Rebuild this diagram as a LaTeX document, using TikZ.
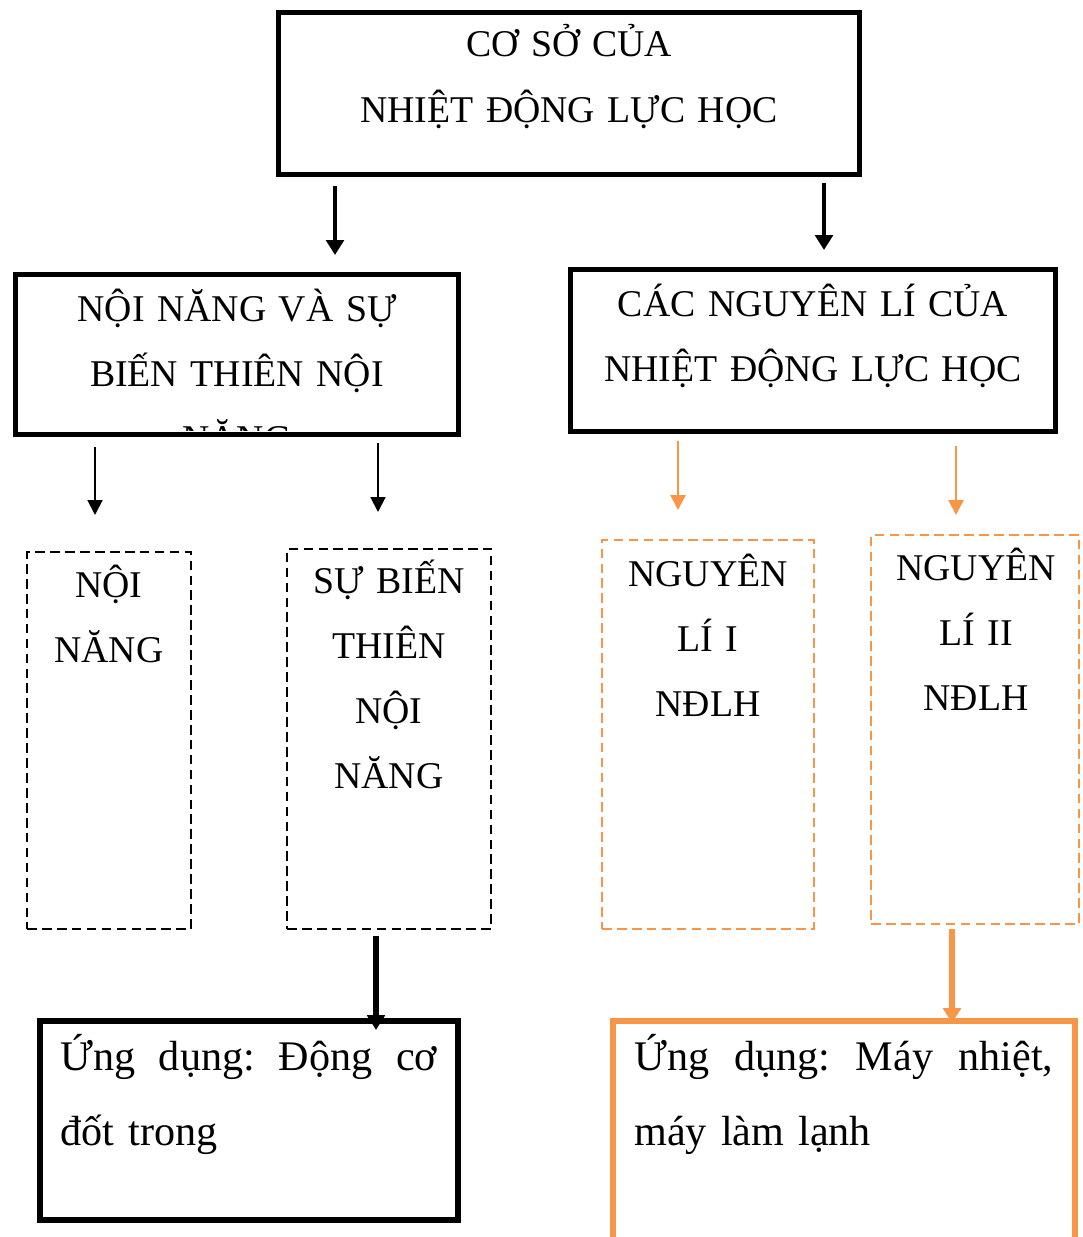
\documentclass[tikz,border=0pt]{standalone}
\usepackage{fontspec}
\setmainfont{Liberation Serif}
\usetikzlibrary{arrows.meta,positioning}
\definecolor{accent}{HTML}{F79646}
\tikzset{
 bigbox/.style={draw,line width=3pt,inner sep=0pt},
 dashbox/.style={draw,line width=1.1pt,dash pattern=on 5.5pt off 3pt,inner sep=0pt},
 head/.style={align=center,inner sep=0pt,anchor=base,font=\fontsize{21.5}{37}\selectfont},
 body/.style={align=left,inner sep=0pt,anchor=base west,font=\fontsize{24}{42.7}\selectfont},
 arrow/.style={-{Triangle[length=8.5pt,width=8.5pt]},line width=1.1pt},
 bigarrow/.style={-{Triangle[length=8.5pt,width=10pt]},line width=3pt}
}

\begin{document}
\begin{tikzpicture}[x=0.02cm,y=-0.02cm]
\useasboundingbox (0,0) rectangle (1082,1237);
\clip (0,0) rectangle (1082,1237);
% top level
\node[bigbox,minimum width=11.62cm,minimum height=3.24cm] (coso) at (569,93.5) {};
\node[head,text width=11cm] (cosoTxt) at (569,57) {CƠ SỞ CỦA\\NHIỆT ĐỘNG LỰC HỌC};
% second level
\node[bigbox,minimum width=8.86cm,minimum height=3.2cm] (noinang) at (237,354.5) {};
\begin{scope}
\clip ([yshift=4pt]noinang.south west) rectangle (noinang.north east);
\node[head,text width=8.5cm] (noinangTxt) at (237,321) {NỘI NĂNG VÀ SỰ\\BIẾN THIÊN NỘI\\NĂNG};
\end{scope}
\node[bigbox,minimum width=9.7cm,minimum height=3.24cm] (nguyenli) at (813,350.5) {};
\node[head,text width=9.4cm] (nguyenliTxt) at (813,316) {CÁC NGUYÊN LÍ CỦA\\NHIỆT ĐỘNG LỰC HỌC};
% third level
\node[dashbox,minimum width=3.28cm,minimum height=7.54cm] (nn) at (109,740.5) {};
\node[head,text width=3cm] (nnTxt) at (109,597) {NỘI\\NĂNG};
\node[dashbox,minimum width=4.08cm,minimum height=7.6cm] (sbt) at (389,739) {};
\node[head,text width=3.8cm] (sbtTxt) at (389,593) {SỰ BIẾN\\THIÊN\\NỘI\\NĂNG};
\node[dashbox,draw=accent,minimum width=4.24cm,minimum height=7.78cm] (nl1) at (708,734.5) {};
\node[head,text width=3.9cm] (nl1Txt) at (708,586) {NGUYÊN\\LÍ I\\NĐLH};
\node[dashbox,draw=accent,minimum width=4.16cm,minimum height=7.78cm] (nl2) at (975,729.5) {};
\node[head,text width=3.9cm] (nl2Txt) at (976,580) {NGUYÊN\\LÍ II\\NĐLH};
% applications
\node[bigbox,minimum width=8.36cm,minimum height=3.98cm] (ud1) at (249,1120.5) {};
\node[body,text width=7.54cm] (ud1Txt) at (60,1070) {Ứng\hfill dụng:\hfill Động\hfill cơ\\đốt trong};
\node[bigbox,draw=accent,minimum width=9.24cm,minimum height=5.58cm] (ud2) at (844,1160.5) {};
\node[body,text width=8.38cm] (ud2Txt) at (634,1070) {Ứng\hfill dụng:\hfill Máy\hfill nhiệt,\\máy làm lạnh};
% arrow tips
\coordinate (t1) at (335,255);
\coordinate (t2) at (824,250);
\coordinate (t3) at (95,515);
\coordinate (t4) at (378,512);
\coordinate (t5) at (678,510);
\coordinate (t6) at (956,515);
\coordinate (t7) at (376,1030);
\coordinate (t8) at (952,1023);
\draw[bigarrow,line width=2.6pt,shorten <=0.17cm] (coso.south -| t1) -- (t1);
\draw[bigarrow,line width=2.6pt,shorten <=0.11cm] (coso.south -| t2) -- (t2);
\draw[arrow,shorten <=0.19cm] (noinang.south -| t3) -- (t3);
\draw[arrow,shorten <=0.11cm] (noinang.south -| t4) -- (t4);
\draw[arrow,accent,line width=1.3pt,shorten <=0.13cm] (nguyenli.south -| t5) -- (t5);
\draw[arrow,accent,line width=1.3pt,shorten <=0.23cm] (nguyenli.south -| t6) -- (t6);
\draw[bigarrow,shorten <=0.12cm] (sbt.south -| t7) -- (t7);
\draw[bigarrow,accent,shorten <=0.08cm] (nl2.south -| t8) -- (t8);
\end{tikzpicture}
\end{document}
